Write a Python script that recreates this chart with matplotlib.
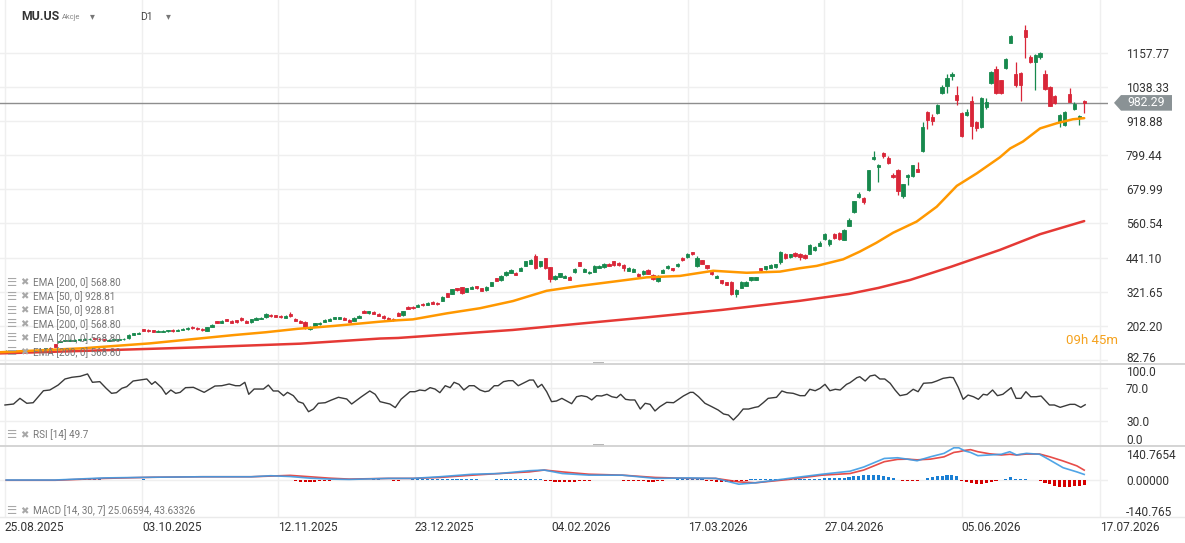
import matplotlib
matplotlib.use("Agg")
import matplotlib.pyplot as plt
import matplotlib.transforms as mtransforms
from matplotlib.patches import Polygon, Rectangle
from matplotlib.lines import Line2D
import numpy as np

# ---------------- data ----------------
opens = [112,116,113,116,114,117,115,118,121,125,138,147,149,150,151,152,154,155,159,158,
         157,151,152,153,155,159,171,175,190,188,187,181,182,183,188,184,188,190,199,196,
         193,185,200,219,214,226,220,222,229,220,215,224,226,232,242,240,238,231,243,228,
         220,216,193,202,209,216,221,226,228,230,224,220,230,255,247,252,244,238,230,227,
         249,240,270,269,268,280,275,286,284,290,316,315,333,337,322,332,340,333,327,343,
         368,362,380,388,388,395,412,420,446,410,439,407,365,374,370,373,390,424,392,386,
         392,405,408,420,428,422,415,395,392,384,382,398,380,358,388,403,403,410,440,442,
         459,411,432,414,392,370,362,354,356,312,335,342,362,364,404,400,405,408,426,454,
         442,456,455,450,455,468,482,505,490,523,527,504,553,599,653,648,677,785,757,808,
         789,730,747,656,722,726,750,813,951,932,948,1016,1041,1077,1010,946,940,990,914,899,
         969,1053,1100,1062,1103,1193,1083,1086,1237,1142,1126,1142,1083,1039,1006,914,905,1013,960,928,
         990]
highs = [117,118,118,118,119,119,120,123,126,127,140,153,154,155,156,157,159,160,161,160,
         158,156,157,158,160,174,179,181,192,190,189,187,188,189,190,190,194,197,201,198,
         195,200,209,221,222,228,222,224,232,222,228,232,233,247,244,242,240,239,252,230,
         222,218,203,214,216,226,229,234,235,232,226,232,240,258,256,254,246,240,232,229,
         251,256,272,271,279,282,286,288,286,306,318,332,335,339,336,341,342,335,340,357,
         371,380,394,402,390,407,430,435,452,430,441,409,380,388,380,375,406,426,404,395,
         414,415,422,422,430,424,417,407,404,386,397,400,382,380,400,414,405,422,442,457,
         461,445,434,416,394,380,364,356,358,330,358,358,374,374,406,412,417,420,465,458,
         454,460,458,452,487,482,498,527,505,526,530,541,579,640,670,652,749,813,768,812,
         798,738,750,700,732,766,776,916,953,942,980,1045,1082,1089,1042,951,962,1005,918,1002,
         998,1093,1111,1064,1140,1218,1126,1090,1255,1150,1153,1160,1097,1042,1010,942,953,1033,985,939,
         993]
lows = [110,111,112,112,113,113,113,117,120,120,128,145,148,149,150,150,153,154,155,153,
        151,150,151,152,154,158,170,174,184,181,180,180,181,182,182,183,187,189,193,189,
        185,183,199,211,212,218,212,214,220,212,214,222,225,231,234,233,230,229,234,218,
        211,192,187,200,207,215,220,225,227,222,215,219,229,246,245,243,236,228,221,220,
        236,238,261,262,267,272,274,278,276,288,303,313,324,313,320,330,332,323,325,341,
        358,360,378,386,379,393,410,418,400,408,400,355,363,372,368,362,386,410,390,384,
        390,403,406,410,412,413,395,393,390,374,380,383,364,355,386,401,394,408,430,440,
        450,409,418,402,380,368,350,344,310,305,333,340,360,362,394,398,403,406,420,436,
        440,444,434,436,453,465,480,502,480,505,502,502,550,597,650,630,675,782,704,790,
        768,718,660,650,695,724,739,811,890,905,943,1012,1018,1062,974,864,935,856,885,896,
        960,1050,1015,1014,1100,1190,1039,990,1138,1120,1027,1135,1028,970,980,897,903,984,957,905,
        948]
closes = [115,113,116,114,117,114,119,121,124,122,130,151,152,153,153,155,157,158,156,155,
          153,154,155,156,158,172,177,179,185,183,182,185,186,187,184,188,192,195,195,191,
          187,198,207,213,220,220,214,216,222,214,226,230,231,245,236,235,232,237,236,220,
          214,195,200,212,214,224,227,232,233,224,217,230,238,248,254,245,238,230,223,222,
          238,254,263,264,277,274,284,280,278,304,305,330,326,316,334,339,334,325,338,355,
          360,378,392,398,381,405,428,432,405,428,404,365,378,386,378,364,402,412,402,392,
          412,413,420,412,414,415,405,405,402,376,395,385,366,378,398,412,396,420,432,455,
          452,438,420,404,382,378,352,346,312,328,356,356,372,372,396,410,415,418,461,440,
          452,446,442,438,485,478,493,523,502,508,505,539,574,638,665,636,747,794,765,796,
          771,722,675,698,729,764,741,897,922,920,975,1037,1068,1085,992,866,951,900,893,998,
          985,1091,1018,1018,1135,1216,1045,1045,1212,1126,1150,1156,1031,972,983,940,951,986,978,936,
          982.29]

# moving averages (sampled along the drawn lines: bar position, value)
ema50_pos = [-1.3, 15.7, 29.3, 46.4, 53, 59.5, 66.8, 76.3, 80, 83, 89.9, 96.7, 103.4, 110.3, 117,
             123.9, 130.7, 137.5, 144.3, 151.1, 157.9, 162, 165.4, 170.8, 174.2, 177.6, 181, 185.8,
             189.9, 194, 198.1, 202.8, 204.9, 207.5, 211, 214.4, 217.7, 220]
ema50_val = [110, 124, 141, 170, 180, 192, 202, 217, 222, 225, 246, 264, 289, 325, 342,
             357, 372, 377, 395, 388, 392, 404, 412, 435, 462, 493, 528, 567,
             619, 692, 736, 792, 823, 847, 893, 911, 925, 928.81]
ema200_pos = [-1.3, 20, 39, 60, 76.3, 80, 90, 103.4, 117, 130.7, 146, 162, 172, 178, 184.5, 193,
              202.8, 211, 220]
ema200_val = [106, 117, 127, 140, 158, 160, 172, 188, 210, 232, 258, 290, 314, 335, 363, 410,
              468, 523, 568.80]

# RSI (14)
rsi_pos = [-0.25,1.5,2.8,4.2,5.5,7.6,8.9,10.6,12,13.4,15.1,16.6,17.6,19.1,20.4,21.5,22.5,23.6,24.6,25.9,
           27.3,28.7,29.7,30.4,31.7,32.6,33.6,34.6,35.5,36.6,38.2,40.4,42.6,44,45.5,46.8,47.7,48.7,49.5,50.6,
           52.5,53.5,54.5,55.5,56.6,57.4,58.6,59.6,60.6,61.7,62.7,63.7,65.1,66.4,67.8,69.5,70.5,72.5,74.2,75.3,
           76.3,78.3,79.4,80.6,82.4,83.4,84.4,85.5,86.5,87.5,88.5,89.6,90.6,91.4,92.4,93.4,94.5,95.5,96.7,97.7,
           98.5,99.6,100.4,101.5,102.5,103.4,104.5,105.5,106.8,107.6,108.5,109.3,110.3,111.3,112.3,113.4,114.4,115.4,116.4,117.4,
           118.5,119.5,120.5,121.5,122.6,123.6,124.6,125.4,126.4,127.3,128.3,129.4,130.4,131.4,132.4,133.4,134.8,136.2,137.2,138.2,
           139.6,140.2,141.3,142.6,144,145.3,146.4,147.4,148.4,149.4,150.4,151.5,152.8,153.5,154.5,155.5,157.2,158.3,159.3,160.6,
           162,163,164,165.1,166.1,167.1,168.1,169.2,170.2,171.5,172.2,173.6,174.2,175.3,176.3,177.3,178.3,179.3,180.4,181.4,
           182.4,183.8,185.1,186.1,187.2,188.9,189.9,191.2,192.6,193.3,194.3,195.3,196.3,197.4,198.4,199.4,200.2,201.3,202.3,203.4,
           205.1,206.1,207.1,208.1,209.1,210.2,211.2,212.9,213.9,215.1,217.1,218.1,219.3,220.2]
rsi_val = [49.4,50.6,57.6,51.5,52.2,67,67.9,74,81.5,83.6,84.8,87.7,77.4,78.2,70,63.8,64.6,70,72,79,
           80.2,81.5,74.9,78.2,70.8,62.6,67.9,63.8,65,70.8,71.2,65,72.8,73.2,75.3,73.2,73.2,77.4,62.6,69.1,
           69.1,74,66.7,66.7,60.9,65,60.9,53.5,51.5,41.1,44.4,51.5,52.2,55.6,58.9,56.8,50.6,59.6,66.7,62.6,
           53.5,50.6,46.2,56.6,65.8,65.8,67.9,67,70.8,69.1,64.6,73.2,70.8,77.4,74.9,67.9,73.2,73.2,67.9,65.8,
           66.7,73.2,73.2,78.2,79.4,79.4,73.2,76.2,80.2,80.2,71.2,74.9,65.8,53.5,54.3,57.6,54.3,51,59.6,60.9,
           59.6,55.6,60.9,60.5,62.6,59.6,58.4,62.6,56.4,55.6,55.6,44.4,51.5,50.2,42,47.3,52.7,52.2,56.4,60.5,
           65,65,59.6,51.5,47.3,43.2,38.3,37,30.9,37,44.4,44.4,46.5,47.3,52.2,57.6,58.9,66.7,64.6,63.8,
           60.9,60.9,68.8,67,70,74.9,67,68.8,67.9,74.9,76.9,83.1,84.3,79,85.2,86.4,81.5,81.5,76.2,67.9,
           60.9,62.6,68.8,65.8,76.2,76.9,79,82.3,83.6,83.1,71.2,56.4,61.7,59.6,56.4,62.6,61.7,67.9,60.9,62.6,
           70.8,57.6,57.6,65.8,59.6,59.6,60.5,49.4,49.4,46.5,50.2,50.2,46.5,49.7]

# MACD (14, 30, 7)
macd_pos = [0,10,20,30,40,50,54,58,62,66,70,78,83,88.4,95.2,100.6,106.7,109.8,113.5,118.9,125.7,132.5,
            139.3,144.8,149.5,152.9,159.7,166.5,172.2,175,179.2,181.9,183.9,185.9,188.6,191.4,193.4,194.4,
            195.7,196.8,198.3,200.7,203.1,204.8,206.2,208.2,210.9,213,215.7,218.5,220]
macd_val = [1,1,10,13,15,15,19.5,16,9,5,3.5,8,8,15,26,29,41,44,29,22,22,8,
            10,8,-17,-11,8,26,39,57,94,97,91,84,101,116,140,140,
            126,120,106,109,112,123,109,116,112,87,54,36,25.06594]
signal_val = [0,0,8,13,15,15,18,21,15,9,5,8,8,12,22,29,36,44,36,26,22,12,
              8,8,-7,-11,3.5,22,29,44,80,90,91,88,91,101,120,123,
              129,132,123,114,109,112,109,113,113,101,83,62,43.63326]
macd_hist = [0,0,0,0,0,0,0,0,0,0,0,0, 4,4,4,4,4,4,4,4, 0,0,0,0,0,0,0,0, 4,
             0,0,0,0,0,0,0,0,0,0,0,0,0,0,0,0,0,0,0,0,0,0,0,0,0,0,0,0,0,0,
             -4,-6,-6,-6,-6,-4,-4,-4, 0,0,0,0,0,0,0,0, 4,4, 0,0, -4,-4, 0,0,
             4,4,4,4,4,4,4,4,4,4,4,4,4,4, 0,0,0, 4,4,4,4,4,4,4,4,4,4,
             -4,-4, -7,-8,-8,-8,-7, -4,-4,-4, 0,0,0,0,0,0,
             -4,-4,-4,-4,-4,-7,-7,-4,-4, 0,0, 4,4,4,4,4,4,
             -4,-4,-8,-9,-9,-8,-6,-4,-4, 4,4,4,4,4,4,4,4,
             4,5,5,6,6,7,7,8,8,9,10,11, 13,17,17,22,22,22,22,17,13,9,
             0, -4,-4,-4,-4, 0, 9,13,17,17,22,22,17,
             -4,-9,-13,-17,-17,-13,-9,-4, 0, 4,13,4,4,4, 0,0,
             -4,-13,-17,-26,-30,-30,-30,-26,-26,-19]

price_ticks = [1157.77, 1038.33, 918.88, 799.44, 679.99, 560.54, 441.10, 321.65, 202.20, 82.76]
last_price = 982.29
date_labels = ["25.08.2025", "03.10.2025", "12.11.2025", "23.12.2025", "04.02.2026",
               "17.03.2026", "27.04.2026", "05.06.2026", "17.07.2026"]
date_pos = [-0.25, 27.7, 55.5, 83.4, 111.2, 139.1, 166.9, 195.0, 223.2]
legend_main = ["EMA [200, 0] 568.80", "EMA [50, 0] 928.81", "EMA [50, 0] 928.81",
               "EMA [200, 0] 568.80", "EMA [200, 0] 568.80", "EMA [200, 0] 568.80"]

# ---------------- figure ----------------
W, H = 1185, 543
plt.rcParams['font.family'] = ['Roboto', 'DejaVu Sans']
fig = plt.figure(figsize=(W / 100, H / 100), dpi=100)
fig.patch.set_facecolor('white')

def px_axes(x0, y0, x1, y1):
    return fig.add_axes([x0 / W, 1 - y1 / H, (x1 - x0) / W, (y1 - y0) / H])

ax = px_axes(0, 0, 1108, 363)
ax_r = px_axes(0, 364, 1108, 445)
ax_m = px_axes(0, 445, 1108, 517)

GREEN = '#17894d'
RED = '#d92638'
GRID = '#efefef'
TXT = '#333333'
ICON = '#a8a8a8'
LEG = '#777777'
XL = (-6.2 / 4.9, (1108 - 6.2) / 4.9)

for a in (ax, ax_r, ax_m):
    a.set_xlim(*XL)
    for s in a.spines.values():
        s.set_visible(False)
    a.set_xticks(date_pos)
    a.grid(True, color=GRID, lw=1)
    a.set_axisbelow(True)
    a.tick_params(length=0)
    a.yaxis.tick_right()
    a.tick_params(axis='y', pad=13, labelsize=8.6, labelcolor=TXT)

ax.set_xticklabels([])
ax_r.set_xticklabels([])

def legend_row(y_px, text):
    yy = 1 - y_px / H
    fig.text(6 / W, yy, "\u2630", fontsize=8.2, color=ICON, va='center',
             family=['DejaVu Sans'], zorder=10)
    fig.text(20 / W, yy, "\u2716", fontsize=7.2, color=ICON, va='center',
             family=['DejaVu Sans'], zorder=10)
    fig.text(33 / W, yy, text, fontsize=7.1, color=LEG, va='center', zorder=10)

# ---- main price panel ----
o = np.array(opens, float); h = np.array(highs, float)
l = np.array(lows, float); c = np.array(closes, float)
idx = np.arange(len(c))
cols = np.where(c >= o, GREEN, RED)
ax.set_ylim(72.4, 1342.1)
ax.set_yticks(price_ticks)
ax.set_yticklabels([f"{v:.2f}" for v in price_ticks])
# lowest label sits just above the panel border, as in the reference
lowlab = ax.get_yticklabels()[-1]
lowlab.set_transform(lowlab.get_transform() +
                     mtransforms.ScaledTranslation(0, 2.5 / 72, fig.dpi_scale_trans))
ax.axhline(last_price, color='#8e8e8e', lw=1.0, zorder=2)
ax.vlines(idx, l, h, colors=cols, lw=0.9, zorder=3)
ax.bar(idx, np.abs(c - o), bottom=np.minimum(o, c), width=0.66, color=cols,
       edgecolor=cols, lw=0.6, zorder=4)
ax.plot(ema200_pos, ema200_val, color='#e53935', lw=1.8, zorder=5, solid_capstyle='round')
ax.plot(ema50_pos, ema50_val, color='#ff9800', lw=1.8, zorder=6, solid_capstyle='round')

# price tag
fig.canvas.draw()
yd = ax.transData.transform((0, last_price))[1]
tag = Polygon([(1114, yd), (1121, yd + 7.8), (1172, yd + 7.8), (1172, yd - 7.8), (1121, yd - 7.8)],
              closed=True, facecolor='#8a9295', edgecolor='none',
              transform=mtransforms.IdentityTransform())
fig.add_artist(tag)
fig.text(1146.5 / W, yd / H, f"{last_price:.2f}", color='white', fontsize=8.8,
         ha='center', va='center')

for k, t in enumerate(legend_main):
    legend_row(282.7 + 13.9 * k, t)

fig.text(1118 / W, 1 - 341 / H, "09h 45m", fontsize=9.5, color='#f5a21e', ha='right', va='center')

# header
fig.text(21 / W, 1 - 17 / H, "MU.US", fontsize=8.8, fontweight='bold', color='#333333', va='center')
fig.text(62 / W, 1 - 17.5 / H, "Akcje", fontsize=5.4, color='#888888', va='center')
fig.text(90 / W, 1 - 16.5 / H, "\u25BE", fontsize=7, color='#777777', va='center', family=['DejaVu Sans'])
fig.text(140 / W, 1 - 17 / H, "D1", fontsize=7.5, color='#444444', va='center')
fig.text(166 / W, 1 - 16.5 / H, "\u25BE", fontsize=7, color='#777777', va='center', family=['DejaVu Sans'])

# ---- RSI panel ----
ax_r.set_ylim(0, 100)
ax_r.set_yticks([70, 30])
ax_r.set_yticklabels(["70.0", "30.0"])
ax_r.plot(rsi_pos, rsi_val, color='#3a3a3a', lw=1.0)
ax_r.annotate("100.0", xy=(1, 100), xycoords=('axes fraction', 'data'), xytext=(13, -1.5),
              textcoords='offset points', fontsize=8.6, color=TXT, va='top', ha='left',
              annotation_clip=False)
ax_r.annotate("0.0", xy=(1, 0), xycoords=('axes fraction', 'data'), xytext=(13, -1.5),
              textcoords='offset points', fontsize=8.6, color=TXT, va='bottom', ha='left',
              annotation_clip=False)
legend_row(435, "RSI [14] 49.7")

# ---- MACD panel ----
ax_m.set_ylim(-158.5, 152)
ax_m.set_yticks([0])
ax_m.set_yticklabels(["0.00000"])
hist = np.array(macd_hist, float)
ax_m.bar(np.arange(len(hist)), hist, width=0.62,
         color=np.where(hist >= 0, '#1a7fd4', '#d50000'), zorder=2)
ax_m.plot(macd_pos, signal_val, color='#e53935', lw=1.2, alpha=0.9, zorder=3)
ax_m.plot(macd_pos, macd_val, color='#3d9be4', lw=1.2, alpha=0.9, zorder=4)
ax_m.annotate("140.7654", xy=(1, 140.7654), xycoords=('axes fraction', 'data'), xytext=(13, -1),
              textcoords='offset points', fontsize=8.6, color=TXT, va='top', ha='left',
              annotation_clip=False)
ax_m.annotate("-140.765", xy=(1, -140.765), xycoords=('axes fraction', 'data'), xytext=(13, 0),
              textcoords='offset points', fontsize=8.6, color=TXT, va='center', ha='left',
              annotation_clip=False)
ax_m.set_xticklabels(date_labels, ha='left')
ax_m.tick_params(axis='x', pad=3, labelsize=8.6, labelcolor=TXT)
legend_row(511, "MACD [14, 30, 7] 25.06594, 43.63326")

# panel separators and handles
for ysep in (363.5, 445.5):
    fig.add_artist(Line2D([0, 1], [1 - ysep / H, 1 - ysep / H], color='#d4d4d4', lw=1.4,
                          transform=fig.transFigure))
    fig.add_artist(Rectangle(((593) / W, 1 - (ysep + 1.2) / H), 11 / W, 2.4 / H,
                             facecolor='#b8b8b8', edgecolor='none', transform=fig.transFigure))
fig.add_artist(Line2D([0, 1], [1 - 517 / H, 1 - 517 / H], color='#eaeaea', lw=1.0,
                      transform=fig.transFigure))

fig.savefig("out.png", dpi=100, facecolor='white')
